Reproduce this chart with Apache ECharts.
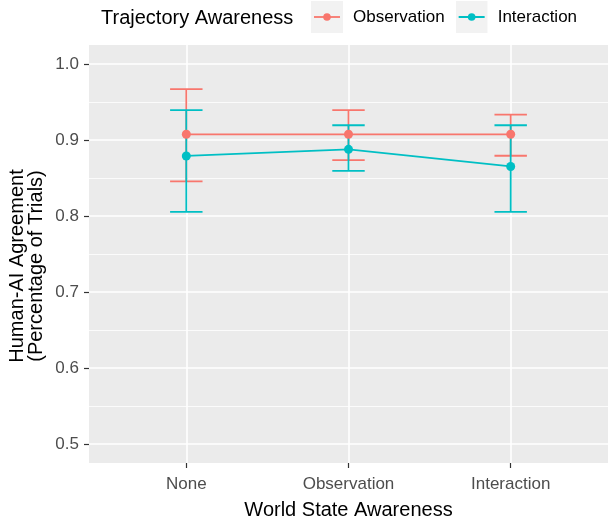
<!DOCTYPE html>
<html>
<head>
<meta charset="utf-8">
<script src="https://cdn.jsdelivr.net/npm/echarts@6/dist/echarts.min.js"></script>
<style>html,body{margin:0;padding:0;background:#fff}#c{width:608px;height:523px}</style>
</head>
<body>
<div id="c"></div>
<script>
// ---- data ----
var categories = ['None', 'Observation', 'Interaction'];
var groups = ['Observation', 'Interaction'];
var groupColors = ['#F8766D', '#00BFC4'];
var obsMean  = [0.9075, 0.9075, 0.9075];
var obsLow   = [0.8455, 0.8736, 0.8793];
var obsHigh  = [0.967, 0.9392, 0.9335];
var intMean  = [0.879, 0.8877, 0.8652];
var intLow   = [0.8053, 0.8595, 0.8053];
var intHigh  = [0.9392, 0.9194, 0.9194];
var yTicks = [0.5, 0.6, 0.7, 0.8, 0.9, 1.0];
var yMinor = [0.55, 0.65, 0.75, 0.85, 0.95];
var xTicks = [1, 2, 3];

var FONT = '"Liberation Sans", Arial, sans-serif';
var chart = echarts.init(document.getElementById('c'), null, {renderer: 'canvas'});

function rows(mean, lo, hi) {
  return mean.map(function (m, i) { return [i + 1, m, lo[i], hi[i]]; });
}
function errSeries(name, color, data) {
  return {
    name: name, type: 'custom', data: data, z: 3,
    encode: {x: 0, y: [1, 2, 3]},
    renderItem: function (params, api) {
      var x = api.value(0), lo = api.value(2), hi = api.value(3);
      var pLo = api.coord([x, lo]), pHi = api.coord([x, hi]);
      var l1 = api.coord([x - 0.1, hi]), r1 = api.coord([x + 0.1, hi]);
      var l2 = api.coord([x - 0.1, lo]), r2 = api.coord([x + 0.1, lo]);
      var st = {stroke: color, lineWidth: 1.8, fill: null};
      return {type: 'group', children: [
        {type: 'line', shape: {x1: pLo[0], y1: pLo[1], x2: pHi[0], y2: pHi[1]}, style: st},
        {type: 'line', shape: {x1: l1[0], y1: l1[1], x2: r1[0], y2: r1[1]}, style: st},
        {type: 'line', shape: {x1: l2[0], y1: l2[1], x2: r2[0], y2: r2[1]}, style: st}
      ]};
    }
  };
}
function lineSeries(name, color, data) {
  return {
    name: name, type: 'line', data: data.map(function (r) { return [r[0], r[1]]; }), z: 4,
    symbol: 'circle', symbolSize: 9, showSymbol: true,
    lineStyle: {color: color, width: 1.8},
    itemStyle: {color: color},
    emphasis: {disabled: true}, animation: false
  };
}
function icon(color) {
  var svg = '<svg xmlns="http://www.w3.org/2000/svg" width="32" height="32" viewBox="0 0 32 32">' +
    '<rect x="0" y="0" width="32" height="32" fill="#F2F2F2"/>' +
    '<line x1="3" y1="16" x2="29" y2="16" stroke="' + color + '" stroke-width="1.8"/>' +
    '<circle cx="16" cy="16" r="3.8" fill="' + color + '"/></svg>';
  return 'image://data:image/svg+xml;charset=utf-8,' + encodeURIComponent(svg);
}

var obsRows = rows(obsMean, obsLow, obsHigh);
var intRows = rows(intMean, intLow, intHigh);

chart.setOption({
  animation: false,
  backgroundColor: '#ffffff',
  grid: {left: 89, right: 0, top: 45, bottom: 60, show: true, backgroundColor: '#EBEBEB', borderWidth: 0,
         containLabel: false, outerBoundsMode: 'none'},
  graphic: [
    {type: 'text', left: 101, top: 8, style: {text: 'Trajectory Awareness', font: '20px ' + FONT, fill: '#000'}},
    {type: 'text', x: 27, y: 266, rotation: Math.PI / 2,
     style: {text: 'Human-AI Agreement\n(Percentage of Trials)', font: '20px ' + FONT, fill: '#000',
             align: 'center', verticalAlign: 'middle', lineHeight: 19}}
  ],
  legend: {
    left: 311, top: 1, padding: 0, itemWidth: 32, itemHeight: 32, itemGap: 11,
    textStyle: {fontSize: 17, fontFamily: FONT, color: '#000', padding: [0, 0, 0, 5]},
    data: [
      {name: groups[0], icon: icon(groupColors[0])},
      {name: groups[1], icon: icon(groupColors[1])}
    ],
    selectedMode: false
  },
  xAxis: {
    type: 'value', min: 0.4, max: 3.6,
    name: 'World State Awareness', nameLocation: 'middle', nameGap: 37,
    nameTextStyle: {fontSize: 20, fontFamily: FONT, color: '#000'},
    axisLine: {show: false},
    axisTick: {show: true, length: 5, customValues: xTicks, lineStyle: {color: '#333', width: 1.2}},
    axisLabel: {customValues: xTicks, margin: 13, fontSize: 17, fontFamily: FONT, color: '#4D4D4D',
                formatter: function (v) { return categories[Math.round(v) - 1]; }},
    splitLine: {show: true, lineStyle: {color: '#ffffff', width: 1.6}}
  },
  yAxis: [{
    type: 'value', min: 0.475, max: 1.025,
    axisLine: {show: false},
    axisTick: {show: true, length: 5, customValues: yTicks, lineStyle: {color: '#333', width: 1.2}},
    axisLabel: {customValues: yTicks, margin: 10, fontSize: 17, fontFamily: FONT, color: '#4D4D4D',
                formatter: function (v) { return v.toFixed(1); }},
    splitLine: {show: true, lineStyle: {color: '#ffffff', width: 1.6}}
  }, {
    type: 'value', min: 0.475, max: 1.025, position: 'left',
    axisLine: {show: false},
    axisTick: {show: false, customValues: yMinor},
    axisLabel: {show: false, customValues: yMinor},
    splitLine: {show: true, lineStyle: {color: '#ffffff', width: 0.8}}
  }],
  series: [
    errSeries(groups[0], groupColors[0], obsRows),
    errSeries(groups[1], groupColors[1], intRows),
    lineSeries(groups[0], groupColors[0], obsRows),
    lineSeries(groups[1], groupColors[1], intRows)
  ]
});
</script>
</body>
</html>
